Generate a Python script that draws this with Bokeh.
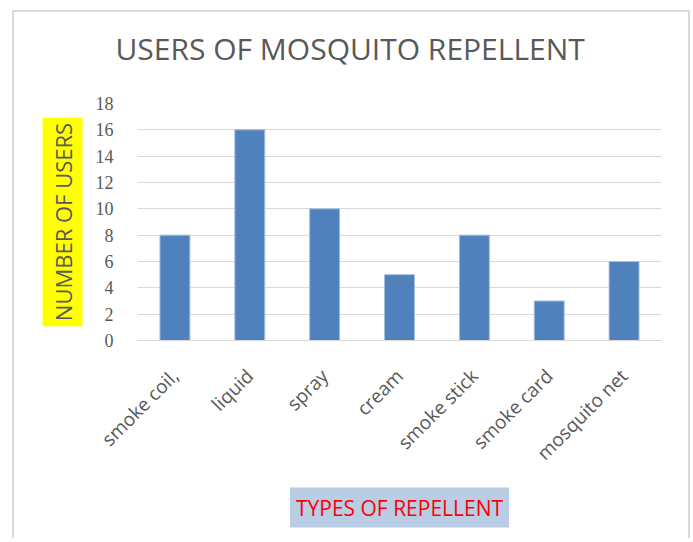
from bokeh.plotting import figure
from bokeh.models import Title, FixedTicker, Range1d
from bokeh.embed import file_html
from bokeh.resources import INLINE
import math

categories = ["smoke coil,", "liquid", "spray", "cream", "smoke stick", "smoke card", "mosquito net"]
users = [8, 16, 10, 5, 8, 3, 6]
y_ticks = [0, 2, 4, 6, 8, 10, 12, 14, 16, 18]

title_text = "USERS OF MOSQUITO REPELLENT"
y_label = "NUMBER OF USERS"
x_label = "TYPES OF REPELLENT"

p = figure(width=678, height=528, x_range=categories, y_range=Range1d(0, 18),
           output_backend="svg", toolbar_location=None, title=None,
           min_border_left=123, min_border_right=31, min_border_top=91, min_border_bottom=200)
p.margin = (10, 3, 0, 12)
p.styles = {"border-left": "2px solid #D9D9D9", "border-top": "2px solid #D9D9D9",
            "border-right": "2px solid #D9D9D9"}
p.background_fill_color = "white"
p.border_fill_color = "white"
p.outline_line_color = None

p.vbar(x=categories, top=users, width=0.4, fill_color="#4F81BD", line_color="#A6BDDB", line_width=1)

p.xgrid.grid_line_color = None
p.ygrid.grid_line_color = "#D9D9D9"
p.ygrid.grid_line_width = 1
p.yaxis.ticker = FixedTicker(ticks=y_ticks)
p.yaxis.axis_line_color = None
p.yaxis.major_tick_line_color = None
p.yaxis.minor_tick_line_color = None
p.yaxis.major_label_text_font = "Liberation Serif"
p.yaxis.major_label_text_font_size = "18px"
p.yaxis.major_label_text_color = "#595959"
p.yaxis.major_label_standoff = 18

p.xaxis.axis_line_color = "#D9D9D9"
p.xaxis.major_tick_line_color = None
p.xaxis.minor_tick_line_color = None
p.xaxis.major_label_orientation = math.pi / 4
p.xaxis.major_label_text_font = "Open Sans"
p.xaxis.major_label_text_font_size = "19px"
p.xaxis.major_label_text_color = "#595959"
p.xaxis.major_label_standoff = 26

# spacer between the chart title and the plot area (nearest to the frame)
p.add_layout(Title(text=" ", standoff=0, text_font="Open Sans", text_font_size="24px"), "above")
p.add_layout(Title(text=title_text, align="left", offset=-22, standoff=0,
                   text_font="Open Sans", text_font_size="30px", text_font_style="normal",
                   text_color="#595959"), "above")
p.add_layout(Title(text=x_label, align="center", standoff=16,
                   text_font="Open Sans", text_font_size="21px", text_font_style="normal",
                   text_color="#FF0000", background_fill_color="#B9CDE5", padding=6), "below")
p.add_layout(Title(text=y_label, align="center", standoff=20,
                   text_font="Open Sans", text_font_size="22px", text_font_style="normal",
                   text_color="#595959", background_fill_color="#FFFF00", padding=5), "left")

open("out.html", "w").write(file_html(p, INLINE))
